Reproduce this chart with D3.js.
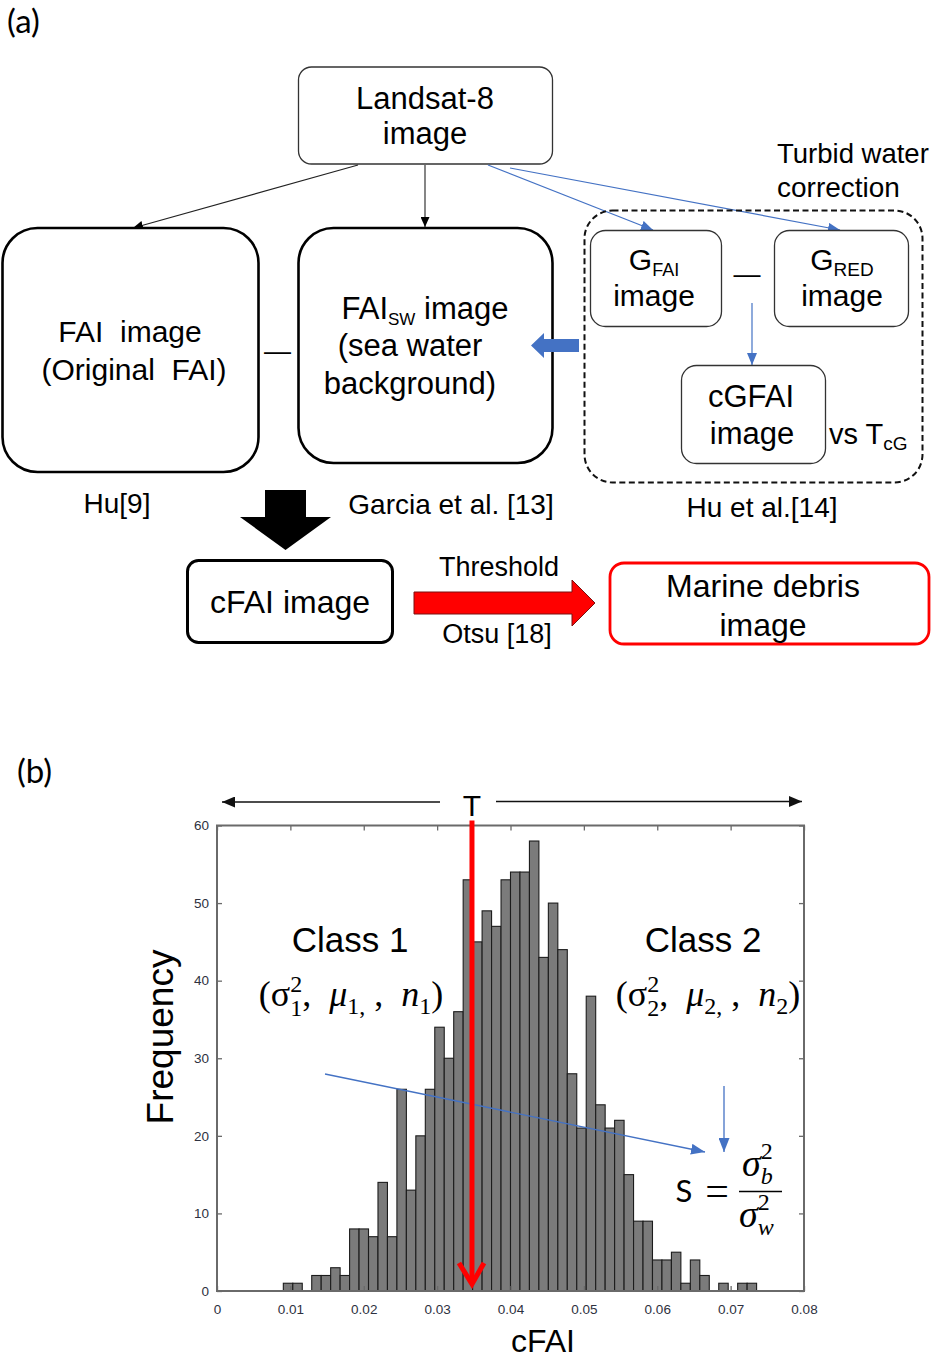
<!DOCTYPE html>
<html>
<head>
<meta charset="utf-8">
<script src="https://cdn.jsdelivr.net/npm/d3@7"></script>
<style>
  html, body { margin: 0; padding: 0; background: #fff; }
  svg { display: block; }
</style>
</head>
<body>
<script>
// ---------- histogram data (cFAI values, 50 equal bins) ----------
const binStart = 0.00904;
const binWidth = 0.00129;
const counts = [
  1, 1, 0, 2, 2, 3, 2, 8, 8, 7,
  14, 7, 26, 13, 20, 26, 34, 30, 36, 53,
  45, 49, 47, 53, 54, 54, 58, 43, 50, 44,
  28, 21, 38, 24, 21, 22, 15, 9, 9, 4,
  4, 5, 1, 4, 2, 0, 1, 0, 1, 1
];
const xTicks = [0, 0.01, 0.02, 0.03, 0.04, 0.05, 0.06, 0.07, 0.08];
const xTickLabels = ["0", "0.01", "0.02", "0.03", "0.04", "0.05", "0.06", "0.07", "0.08"];
const yTicks = [0, 10, 20, 30, 40, 50, 60];
const threshold = 0.03475;   // Otsu threshold T

// ---------- styling ----------
const SANS = "'Liberation Sans', Arial, sans-serif";
const NARROW = "'Liberation Sans Narrow', 'Liberation Sans', Arial, sans-serif";
const SERIF = "'Liberation Serif', 'DejaVu Serif', serif";
const CAL = "Lato, 'Open Sans', sans-serif";
const BLUE = "#4472C4";
const RED = "#FF0000";

const W = 932, H = 1359;
const svg = d3.select("body").append("svg").attr("width", W).attr("height", H);

const defs = svg.append("defs");
function marker(id, color, len, wid) {
  defs.append("marker")
    .attr("id", id).attr("markerUnits", "userSpaceOnUse")
    .attr("viewBox", `0 0 ${len} ${wid}`)
    .attr("refX", len).attr("refY", wid / 2)
    .attr("markerWidth", len).attr("markerHeight", wid)
    .attr("orient", "auto")
    .append("path").attr("d", `M0,0L${len},${wid / 2}L0,${wid}Z`).attr("fill", color);
}
marker("headBlack", "#000", 10, 9);
marker("headBlue", BLUE, 12, 10);
marker("headBlueS", BLUE, 14, 11);
marker("headT", "#111", 13, 11);

// text with optional subscript parts: parts = ["G", ["FAI", "sub"]]
function label(g, x, y, parts, size, opts = {}) {
  const t = g.append("text")
    .attr("x", x).attr("y", y)
    .attr("text-anchor", opts.anchor || "middle")
    .attr("font-family", opts.family || SANS)
    .attr("font-size", size)
    .attr("fill", opts.fill || "#000")
    .style("white-space", "pre");
  if (typeof parts === "string") parts = [parts];
  let shift = 0;
  parts.forEach(p => {
    if (typeof p === "string") {
      t.append("tspan").attr("dy", -shift).text(p);
      shift = 0;
    } else {
      const s = opts.subShift || size * 0.22;
      t.append("tspan").attr("dy", s - shift)
        .attr("font-size", opts.subSize || size * 0.64).text(p[0]);
      shift = s;
    }
  });
  return t;
}

function rbox(g, x, y, w, h, r, stroke, sw, fill = "#fff", dash = null) {
  return g.append("rect")
    .attr("x", x).attr("y", y).attr("width", w).attr("height", h)
    .attr("rx", r).attr("ry", r)
    .attr("fill", fill).attr("stroke", stroke).attr("stroke-width", sw)
    .attr("stroke-dasharray", dash);
}

function line(g, x1, y1, x2, y2, color, sw, mk) {
  return g.append("line")
    .attr("x1", x1).attr("y1", y1).attr("x2", x2).attr("y2", y2)
    .attr("stroke", color).attr("stroke-width", sw)
    .attr("marker-end", mk ? `url(#${mk})` : null);
}

// ======================= (a) flow diagram =======================
const fa = svg.append("g");
label(fa, 7, 33, "(a)", 33, { anchor: "start", family: CAL });

// Landsat-8 source
rbox(fa, 298.5, 67, 254, 97, 13, "#333", 1.3);
label(fa, 425, 109, "Landsat-8", 31);
label(fa, 425, 144, "image", 31);

// connectors out of the source box
line(fa, 358, 165, 133, 228, "#222", 1.1, "headBlack");
line(fa, 425, 165, 425, 227, "#222", 1.1, "headBlack");
line(fa, 488, 165, 653, 230, BLUE, 1.2, "headBlue");
line(fa, 510, 168, 840, 230, BLUE, 1.2, "headBlue");

// FAI boxes
rbox(fa, 2.5, 228, 256, 244, 35, "#000", 2.6);
label(fa, 130, 342, "FAI  image", 30);
label(fa, 134, 380, "(Original  FAI)", 30);
label(fa, 277.5, 360, "—", 27);

rbox(fa, 298.5, 228, 254, 235, 35, "#000", 2.6);
label(fa, 425, 319, ["FAI", ["SW", "sub"], " image"], 31, { subSize: 17, subShift: 6 });
label(fa, 410, 356, "(sea water", 31);
label(fa, 410, 394, "background)", 31);

// blue block arrow into the FAI_SW box
fa.append("path")
  .attr("d", "M579,339 L544,339 L544,333 L531,345.5 L544,358 L544,352 L579,352 Z")
  .attr("fill", BLUE);

// turbid water correction group
rbox(fa, 584.5, 210.5, 338, 272, 28, "#111", 2, "none", "6,3.5");
label(fa, 777, 163, "Turbid water", 27.5, { anchor: "start" });
label(fa, 777, 197, "correction", 28, { anchor: "start" });

rbox(fa, 590.5, 230.5, 131, 96, 15, "#333", 1.3);
label(fa, 654, 270, ["G", ["FAI", "sub"]], 30, { subSize: 18, subShift: 6 });
label(fa, 654, 306, "image", 30);
label(fa, 747, 283, "—", 27);
rbox(fa, 774.5, 230.5, 134, 96, 15, "#333", 1.3);
label(fa, 842, 270, ["G", ["RED", "sub"]], 30, { subSize: 19, subShift: 6 });
label(fa, 842, 306, "image", 30);

line(fa, 752, 303, 752, 365, BLUE, 1.2, "headBlue");
rbox(fa, 681.5, 365.5, 144, 98, 15, "#333", 1.3);
label(fa, 751, 407, "cGFAI", 31);
label(fa, 752, 444, "image", 31);
label(fa, 829, 444, ["vs T", ["cG", "sub"]], 29, { anchor: "start", subSize: 19, subShift: 6 });

// references
label(fa, 117, 513, "Hu[9]", 28);
label(fa, 451, 514, "Garcia et al. [13]", 28);
label(fa, 762, 517, "Hu et al.[14]", 28);

// combined black arrow
fa.append("path")
  .attr("d", "M265,490 L306,490 L306,517 L331,517 L285.5,550 L240,517 L265,517 Z")
  .attr("fill", "#000");

// cFAI result
rbox(fa, 187.5, 560.5, 205, 82, 11, "#000", 3);
label(fa, 290, 613, "cFAI image", 32);

// thresholding arrow
fa.append("path")
  .attr("d", "M414,592 L572,592 L572,580 L595,603 L572,626 L572,614 L414,614 Z")
  .attr("fill", RED).attr("stroke", "#7a1010").attr("stroke-width", 1);
label(fa, 499, 576, "Threshold", 27);
label(fa, 497, 643, "Otsu [18]", 27);

rbox(fa, 610, 563, 319, 81, 14, RED, 2.8);
label(fa, 763, 597, "Marine debris", 32);
label(fa, 763, 636, "image", 32);

// ======================= (b) histogram =======================
const fb = svg.append("g");
label(fb, 17, 783, "(b)", 33, { anchor: "start", family: CAL });

const x = d3.scaleLinear().domain([0, 0.08]).range([217, 804]);
const y = d3.scaleLinear().domain([0, 60]).range([1291, 825.5]);

const bins = counts.map((c, i) => ({ x0: binStart + i * binWidth, x1: binStart + (i + 1) * binWidth, n: c }));

fb.append("g").selectAll("rect")
  .data(bins.filter(d => d.n > 0))
  .join("rect")
  .attr("x", d => x(d.x0))
  .attr("y", d => y(d.n))
  .attr("width", d => x(d.x1) - x(d.x0))
  .attr("height", d => y(0) - y(d.n))
  .attr("fill", "#7b7b7b")
  .attr("stroke", "#1c1c1c")
  .attr("stroke-width", 1.1);

// axis frame with inward ticks on all four sides
const AX = "#6a6a6a";
function styleAxis(g) {
  g.select(".domain").remove();
  g.selectAll(".tick line").attr("stroke", AX).attr("stroke-width", 1.3);
  g.selectAll(".tick text").attr("font-family", NARROW).attr("font-size", 13.5).attr("fill", "#2e3140");
}
fb.append("g").attr("transform", `translate(0,${y(0)})`)
  .call(d3.axisBottom(x).tickValues(xTicks).tickSize(-5).tickPadding(13)
    .tickFormat((d, i) => xTickLabels[i]))
  .call(styleAxis);
fb.append("g").attr("transform", `translate(0,${y(60)})`)
  .call(d3.axisTop(x).tickValues(xTicks).tickSize(-5).tickFormat(""))
  .call(styleAxis);
fb.append("g").attr("transform", `translate(${x(0)},0)`)
  .call(d3.axisLeft(y).tickValues(yTicks).tickSize(-5).tickPadding(8))
  .call(styleAxis);
fb.append("g").attr("transform", `translate(${x(0.08)},0)`)
  .call(d3.axisRight(y).tickValues(yTicks).tickSize(-5).tickFormat(""))
  .call(styleAxis);
fb.append("rect")
  .attr("x", x(0)).attr("y", y(60))
  .attr("width", x(0.08) - x(0)).attr("height", y(0) - y(60))
  .attr("fill", "none").attr("stroke", AX).attr("stroke-width", 2);

// axis titles
fb.append("text")
  .attr("transform", "translate(173,1037) rotate(-90)")
  .attr("text-anchor", "middle").attr("font-family", SANS).attr("font-size", 37)
  .text("Frequency");
label(fb, 543, 1352, "cFAI", 32);

// T with the two class directions
const tx = x(threshold);
line(fb, 440, 802, 222, 802, "#111", 1.6, "headT");
line(fb, 496, 801.5, 802, 801.5, "#111", 1.6, "headT");
label(fb, tx, 816, "T", 30);

// class annotations
label(fb, 350, 952, "Class 1", 35);
label(fb, 703, 952, "Class 2", 35);

function classExpr(cx, k) {
  const t = fb.append("text")
    .attr("x", cx).attr("y", 1006)
    .attr("text-anchor", "middle")
    .attr("font-family", SERIF).attr("font-size", 36)
    .style("white-space", "pre");
  t.append("tspan").text("(σ");
  t.append("tspan").attr("font-size", 24).attr("dy", -14).text("2");
  t.append("tspan").attr("font-size", 24).attr("dx", -12).attr("dy", 24).text(k);
  t.append("tspan").attr("dy", -10).text(",  ");
  t.append("tspan").attr("font-style", "italic").text("μ");
  t.append("tspan").attr("font-size", 24).attr("dy", 8).text(k + ",");
  t.append("tspan").attr("dy", -8).text(" ,  ");
  t.append("tspan").attr("font-style", "italic").text("n");
  t.append("tspan").attr("font-size", 24).attr("dy", 8).text(k);
  t.append("tspan").attr("dy", -8).text(")");
}
classExpr(351, "1");
classExpr(708, "2");

// between/within variance arrows
line(fb, 325, 1074, 705, 1152, BLUE, 1.3, "headBlueS");
line(fb, 724, 1086, 724, 1152, BLUE, 1.3, "headBlueS");

// separability measure S = σb² / σw²
label(fb, 684, 1202, "S", 31, { family: CAL });
label(fb, 717, 1205, "=", 42, { family: SERIF });
fb.append("line").attr("x1", 739).attr("x2", 782).attr("y1", 1191.5).attr("y2", 1191.5)
  .attr("stroke", "#000").attr("stroke-width", 1.6);
function sigma(xl, yb, sub) {
  const t = fb.append("text").attr("x", xl).attr("y", yb)
    .attr("font-family", SERIF).attr("font-size", 38).attr("font-style", "italic")
    .style("white-space", "pre");
  t.append("tspan").text("σ");
  t.append("tspan").attr("font-size", 24).attr("font-style", "normal").attr("dy", -17).text("2");
  t.append("tspan").attr("font-size", 24).attr("dx", -12).attr("dy", 25).text(sub);
}
sigma(742, 1176, "b");
sigma(739, 1227, "w");

// threshold line
const rg = fb.append("g").attr("stroke", RED).attr("fill", "none")
  .attr("stroke-width", 5).attr("stroke-linecap", "butt");
rg.append("line").attr("x1", tx).attr("x2", tx).attr("y1", y(60) - 5).attr("y2", y(0) - 8);
rg.append("path")
  .attr("d", `M${tx - 13},${y(0) - 28} L${tx},${y(0) - 7} L${tx + 12},${y(0) - 28}`)
  .attr("stroke-linejoin", "miter");
</script>
</body>
</html>
